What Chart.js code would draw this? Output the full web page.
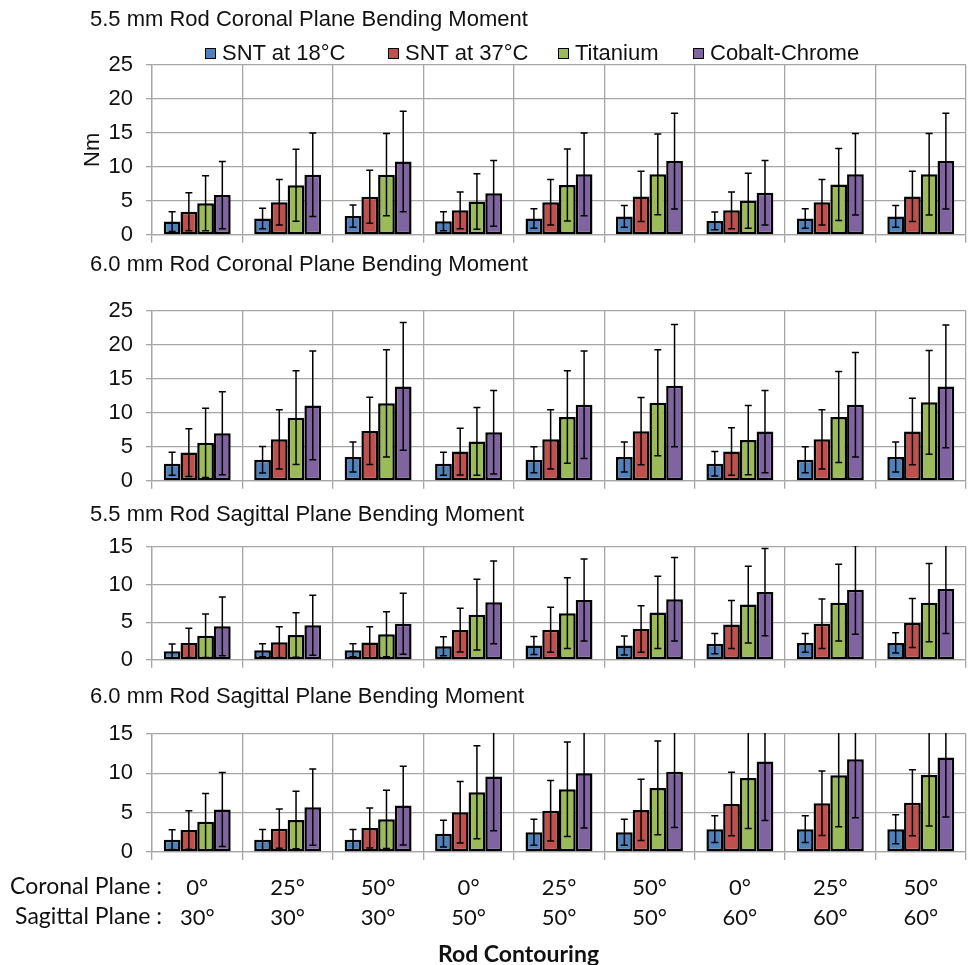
<!DOCTYPE html>
<html>
<head>
<meta charset="utf-8">
<script src="https://cdn.jsdelivr.net/npm/chart.js@4.4.1/dist/chart.umd.min.js"></script>
<style>
  body { margin:0; background:#fff; width:972px; height:965px; position:relative; overflow:hidden; font-family:'Liberation Sans', Arial, sans-serif; }
  canvas { position:absolute; left:0; }
  .item { position:absolute; top:41px; display:flex; align-items:center; font-size:22px; line-height:24px; color:#111; white-space:nowrap; }
  .box { width:9px; height:9px; border:1.5px solid #000; margin-right:6px; }
  .rowlab { position:absolute; right:810px; font-family:Lato, 'Open Sans', sans-serif; font-size:23px; line-height:30px; color:#111; white-space:nowrap; }
  #xtitle { position:absolute; left:438px; top:939px; font-family:Lato, 'Open Sans', sans-serif; font-size:23px; font-weight:bold; line-height:28px; color:#111; }
</style>
</head>
<body>
<canvas id="c1" width="972" height="261" style="top:0px"></canvas>
<canvas id="c2" width="972" height="260" style="top:247px"></canvas>
<canvas id="c3" width="972" height="193" style="top:493px"></canvas>
<canvas id="c4" width="972" height="293" style="top:672px"></canvas>
<div class="rowlab" style="top:870px">Coronal Plane :</div>
<div class="rowlab" style="top:900px">Sagittal Plane :</div>
<div id="xtitle">Rod Contouring</div>
<script>
const coronalAngles  = ['0°','25°','50°','0°','25°','50°','0°','25°','50°'];
const sagittalAngles = ['30°','30°','30°','50°','50°','50°','60°','60°','60°'];
const seriesNames  = ['SNT at 18°C','SNT at 37°C','Titanium','Cobalt-Chrome'];
const seriesColors = ['#4F81BD','#C0504D','#9BBB59','#8064A2'];

// 5.5 mm rod, coronal plane (mean, sd)
const cor55Snt18 = [1.95, 2.4, 2.75, 2.0, 2.4, 2.7, 2.05, 2.4, 2.7];
const cor55Snt37 = [3.4, 4.8, 5.6, 3.6, 4.8, 5.65, 3.6, 4.8, 5.65];
const cor55Ti    = [4.65, 7.3, 8.85, 4.9, 7.35, 8.9, 5.0, 7.4, 8.9];
const cor55CoCr  = [5.85, 8.85, 10.8, 6.1, 8.9, 10.85, 6.2, 8.9, 10.85];
const cor55Snt18Sd = [1.45, 1.5, 1.65, 1.4, 1.45, 1.6, 1.3, 1.45, 1.6];
const cor55Snt37Sd = [2.8, 3.35, 3.9, 2.7, 3.35, 3.7, 2.7, 3.35, 3.7];
const cor55TiSd    = [4.05, 5.3, 6.05, 4.1, 5.3, 5.95, 4.05, 5.3, 6.0];
const cor55CoCrSd  = [4.95, 6.15, 7.4, 4.85, 6.1, 7.05, 4.75, 6.0, 7.05];

// 6.0 mm rod, coronal plane
const cor60Snt18 = [2.5, 3.1, 3.5, 2.5, 3.1, 3.5, 2.5, 3.1, 3.5];
const cor60Snt37 = [4.15, 6.1, 7.35, 4.3, 6.1, 7.3, 4.3, 6.1, 7.25];
const cor60Ti    = [5.6, 9.3, 11.4, 5.8, 9.4, 11.5, 6.0, 9.4, 11.55];
const cor60CoCr  = [7.0, 11.1, 13.9, 7.15, 11.2, 14.0, 7.25, 11.2, 13.9];
const cor60Snt18Sd = [1.7, 1.95, 2.2, 1.7, 1.9, 2.2, 1.8, 1.9, 2.2];
const cor60Snt37Sd = [3.5, 4.35, 4.95, 3.45, 4.35, 4.95, 3.5, 4.35, 4.9];
const cor60TiSd    = [5.1, 6.9, 7.9, 5.0, 6.8, 7.8, 5.1, 6.7, 7.65];
const cor60CoCrSd  = [6.1, 8.0, 9.4, 6.15, 7.9, 9.0, 6.05, 7.7, 9.05];

// 5.5 mm rod, sagittal plane
const sag55Snt18 = [1.15, 1.28, 1.28, 1.8, 1.9, 1.9, 2.15, 2.25, 2.25];
const sag55Snt37 = [2.25, 2.35, 2.3, 3.95, 4.0, 4.1, 4.7, 4.8, 4.9];
const sag55Ti    = [3.2, 3.3, 3.4, 6.0, 6.2, 6.3, 7.35, 7.6, 7.6];
const sag55CoCr  = [4.45, 4.6, 4.8, 7.65, 7.95, 8.05, 9.0, 9.3, 9.4];
const sag55Snt18Sd = [0.95, 0.87, 0.87, 1.25, 1.2, 1.25, 1.35, 1.25, 1.35];
const sag55Snt37Sd = [1.95, 2.05, 2.1, 2.9, 3.0, 3.1, 3.2, 3.3, 3.25];
const sag55TiSd    = [2.9, 2.95, 3.0, 4.7, 4.7, 4.8, 5.1, 5.1, 5.2];
const sag55CoCrSd  = [3.9, 4.0, 4.05, 5.5, 5.45, 5.55, 5.8, 5.9, 5.9];

// 6.0 mm rod, sagittal plane
const sag60Snt18 = [1.57, 1.57, 1.57, 2.33, 2.5, 2.5, 2.9, 2.9, 2.9];
const sag60Snt37 = [2.8, 2.97, 3.05, 5.05, 5.25, 5.35, 6.1, 6.2, 6.27];
const sag60Ti    = [3.85, 4.07, 4.15, 7.6, 7.97, 8.15, 9.4, 9.75, 9.8];
const sag60CoCr  = [5.4, 5.7, 5.9, 9.6, 10.0, 10.2, 11.5, 11.8, 12.0];
const sag60Snt18Sd = [1.25, 1.3, 1.3, 1.7, 1.65, 1.65, 1.7, 1.7, 1.85];
const sag60Snt37Sd = [2.45, 2.5, 2.55, 3.9, 3.85, 3.9, 4.05, 4.1, 4.2];
const sag60TiSd    = [3.6, 3.65, 3.7, 5.9, 6.0, 5.95, 6.4, 6.55, 6.5];
const sag60CoCrSd  = [4.7, 4.85, 5.0, 6.9, 6.95, 7.1, 7.5, 7.45, 7.55];

const labels = coronalAngles.map((c, i) => [c, sagittalAngles[i]]);
const GRID = '#a6a6a6';
const ARIAL = 'Liberation Sans';

// error bars: mean +/- sd, clipped to the plot
const errorBars = {
  id: 'errorBars',
  afterDatasetsDraw(chart){
    const {ctx, chartArea: a, scales: {y}} = chart;
    ctx.save();
    ctx.beginPath();
    ctx.rect(a.left, a.top - 1, a.right - a.left, a.bottom - a.top + 2);
    ctx.clip();
    ctx.strokeStyle = '#000';
    ctx.lineWidth = 1.5;
    chart.data.datasets.forEach((ds, i) => {
      chart.getDatasetMeta(i).data.forEach((bar, j) => {
        const hi = y.getPixelForValue(ds.data[j] + ds.sd[j]);
        const lo = y.getPixelForValue(ds.data[j] - ds.sd[j]);
        const x = bar.x;
        ctx.beginPath();
        ctx.moveTo(x, hi); ctx.lineTo(x, lo);
        ctx.moveTo(x - 3.5, hi); ctx.lineTo(x + 3.5, hi);
        ctx.moveTo(x - 3.5, lo); ctx.lineTo(x + 3.5, lo);
        ctx.stroke();
      });
    });
    ctx.restore();
  }
};

function makeChart(id, title, means, sds, yMax, pad, opts){
  const ctx = document.getElementById(id).getContext('2d');
  return new Chart(ctx, {
    type: 'bar',
    data: {
      labels: labels,
      datasets: means.map((m, i) => ({
        label: seriesNames[i],
        data: m,
        sd: sds[i],
        backgroundColor: seriesColors[i],
        borderColor: '#000',
        borderWidth: 2.5,
        borderSkipped: false,
        categoryPercentage: 0.74,
        barPercentage: 1.0
      }))
    },
    options: {
      responsive: false,
      animation: false,
      layout: { padding: { left: 90, right: 6, top: 0, bottom: 0 } },
      plugins: {
        legend: { display: false },
        tooltip: { enabled: false },
        title: {
          display: true, text: title, align: 'start', color: '#111',
          font: { family: ARIAL, size: 22, weight: 'normal' },
          padding: pad
        }
      },
      scales: {
        x: {
          grid: { color: GRID, lineWidth: 1.3, offset: true, tickLength: 8 },
          border: { color: GRID, width: 1.3 },
          ticks: opts.last ? {
            color: '#111', padding: 13, maxRotation: 0, autoSkip: false,
            font: { family: 'Lato', size: 22, lineHeight: 30/22 }
          } : { display: false },
          afterFit(s){ s.height = opts.xh; }
        },
        y: {
          min: 0, max: yMax,
          grid: { color: GRID, lineWidth: 1.3, tickLength: 6 },
          border: { color: GRID, width: 1.3 },
          ticks: { stepSize: 5, padding: 13, color: '#111', font: { family: ARIAL, size: 22 } },
          title: opts.yTitle ? {
            display: true, text: 'Nm', color: '#111', padding: { top: -10, bottom: 0 },
            font: { family: ARIAL, size: 22 }
          } : { display: false },
          afterFit(s){ s.width = 62; }
        }
      }
    },
    plugins: [errorBars]
  });
}

makeChart('c1', '5.5 mm Rod Coronal Plane Bending Moment',
  [cor55Snt18, cor55Snt37, cor55Ti, cor55CoCr],
  [cor55Snt18Sd, cor55Snt37Sd, cor55TiSd, cor55CoCrSd],
  25, { top: 7, bottom: 31.6 }, { xh: 26, yTitle: true });

makeChart('c2', '6.0 mm Rod Coronal Plane Bending Moment',
  [cor60Snt18, cor60Snt37, cor60Ti, cor60CoCr],
  [cor60Snt18Sd, cor60Snt37Sd, cor60TiSd, cor60CoCrSd],
  25, { top: 5, bottom: 32.6 }, { xh: 26 });

makeChart('c3', '5.5 mm Rod Sagittal Plane Bending Moment',
  [sag55Snt18, sag55Snt37, sag55Ti, sag55CoCr],
  [sag55Snt18Sd, sag55Snt37Sd, sag55TiSd, sag55CoCrSd],
  15, { top: 9, bottom: 18.6 }, { xh: 26 });

makeChart('c4', '6.0 mm Rod Sagittal Plane Bending Moment',
  [sag60Snt18, sag60Snt37, sag60Ti, sag60CoCr],
  [sag60Snt18Sd, sag60Snt37Sd, sag60TiSd, sag60CoCrSd],
  15, { top: 12, bottom: 23.6 }, { xh: 113, last: true });

// legend, laid out like the original figure
const legendLeft = [205, 388, 558, 693];
seriesNames.forEach((name, i) => {
  const item = document.createElement('div');
  item.className = 'item';
  item.style.left = legendLeft[i] + 'px';
  item.innerHTML = '<span class="box" style="background:' + seriesColors[i] + '"></span>' + name;
  document.body.appendChild(item);
});
</script>
</body>
</html>
